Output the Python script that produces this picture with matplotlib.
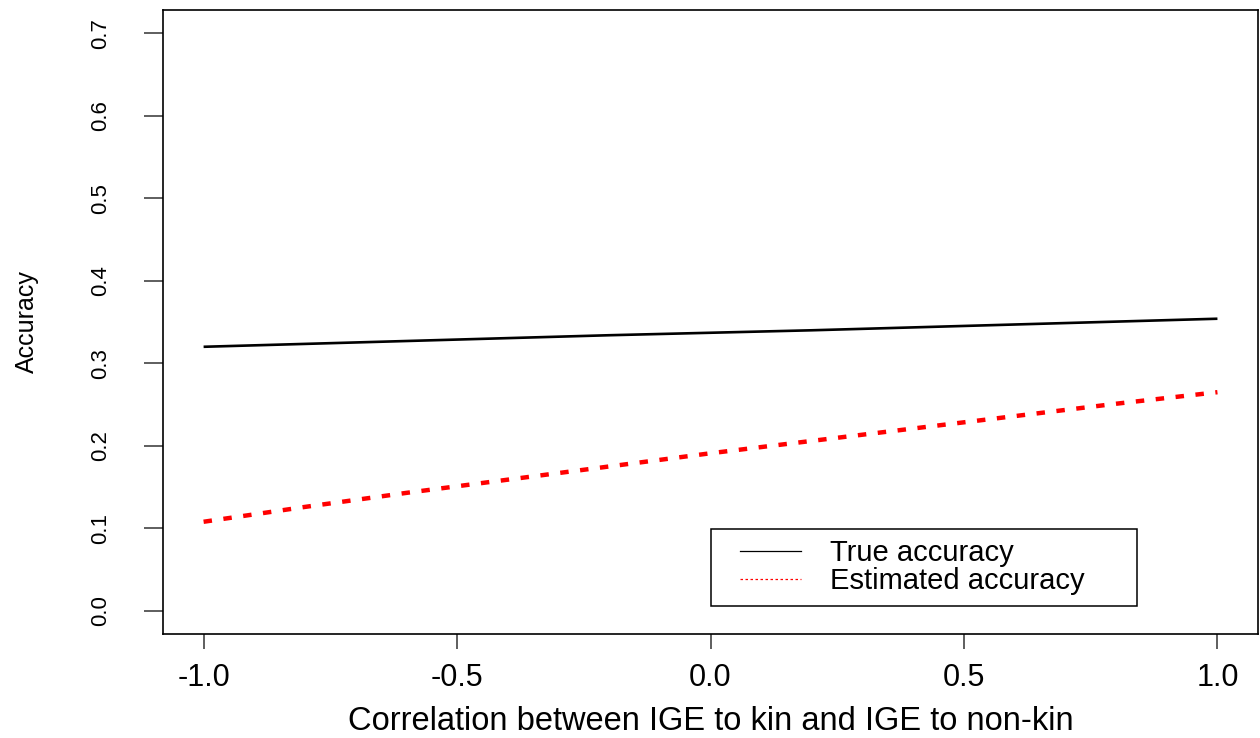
import matplotlib
matplotlib.use("Agg")
import matplotlib.pyplot as plt
from matplotlib.lines import Line2D
from matplotlib.patches import Rectangle

# Correlation values and the two accuracy curves
correlation = [-1.0, -0.8, -0.6, -0.4, -0.2, 0.0, 0.2, 0.4, 0.6, 0.8, 1.0]
true_accuracy = [0.320, 0.3235, 0.327, 0.3305, 0.334, 0.337, 0.340, 0.3435, 0.347, 0.3505, 0.354]
estimated_accuracy = [0.108, 0.126, 0.143, 0.159, 0.175, 0.191, 0.206, 0.221, 0.236, 0.251, 0.265]

x_ticks = [-1.0, -0.5, 0.0, 0.5, 1.0]
x_tick_labels = ["-1.0", "-0.5", "0.0", "0.5", "1.0"]
y_ticks = [0.0, 0.1, 0.2, 0.3, 0.4, 0.5, 0.6, 0.7]
y_tick_labels = ["0.0", "0.1", "0.2", "0.3", "0.4", "0.5", "0.6", "0.7"]
series_names = ["True accuracy", "Estimated accuracy"]

plt.rcParams["font.family"] = ["Liberation Sans", "DejaVu Sans"]
narrow = ["Liberation Sans Narrow", "Liberation Sans", "DejaVu Sans"]

fig = plt.figure(figsize=(12.6, 7.38), dpi=100)
ax = fig.add_axes([0.1294, 0.1409, 0.869, 0.8455])

ax.plot(correlation, true_accuracy, color="black", lw=1.9, solid_capstyle="butt")
ax.plot(correlation, estimated_accuracy, color="red", lw=3.2,
        linestyle=(0, (1.9, 2.6)), dash_capstyle="butt")

# R-style 4% padding around the data range
ax.set_xlim(-1.08, 1.08)
ax.set_ylim(-0.028, 0.728)

ax.set_xticks(x_ticks)
ax.set_xticklabels(x_tick_labels, fontsize=22)
ax.set_yticks(y_ticks)
ax.set_yticklabels(y_tick_labels, fontsize=16, rotation=90, va="center",
                   family=narrow)
ax.tick_params(axis="x", length=10.8, width=1.1, color="#333333", pad=10)
ax.tick_params(axis="y", length=13.7, width=1.1, color="#333333", pad=24)

for side in ax.spines.values():
    side.set_linewidth(1.2)
    side.set_color("black")

ax.set_xlabel("Correlation between IGE to kin and IGE to non-kin",
              fontsize=23.5, va="center")
ax.xaxis.set_label_coords(0.5, -0.141)
ax.set_ylabel("Accuracy", fontsize=18, va="center", family=narrow)
ax.yaxis.set_label_coords(-0.124, 0.5)

# Legend: thin keys inside a square box
handles = [Line2D([], [], color="black", lw=0.9),
           Line2D([], [], color="red", lw=0.9, linestyle=(0, (2, 2)))]
leg = ax.legend(handles, series_names, loc="center left",
                bbox_to_anchor=(0.527, 0.107), bbox_transform=ax.transAxes,
                frameon=False, fontsize=21, handlelength=2.1,
                handletextpad=1.0, labelspacing=0.0, borderpad=0,
                borderaxespad=0)
ax.add_patch(Rectangle((0.5005, 0.0449), 0.389, 0.1234, transform=ax.transAxes,
                       fill=False, edgecolor="black", lw=1.1, zorder=5))

fig.savefig("out.png", dpi=100)
